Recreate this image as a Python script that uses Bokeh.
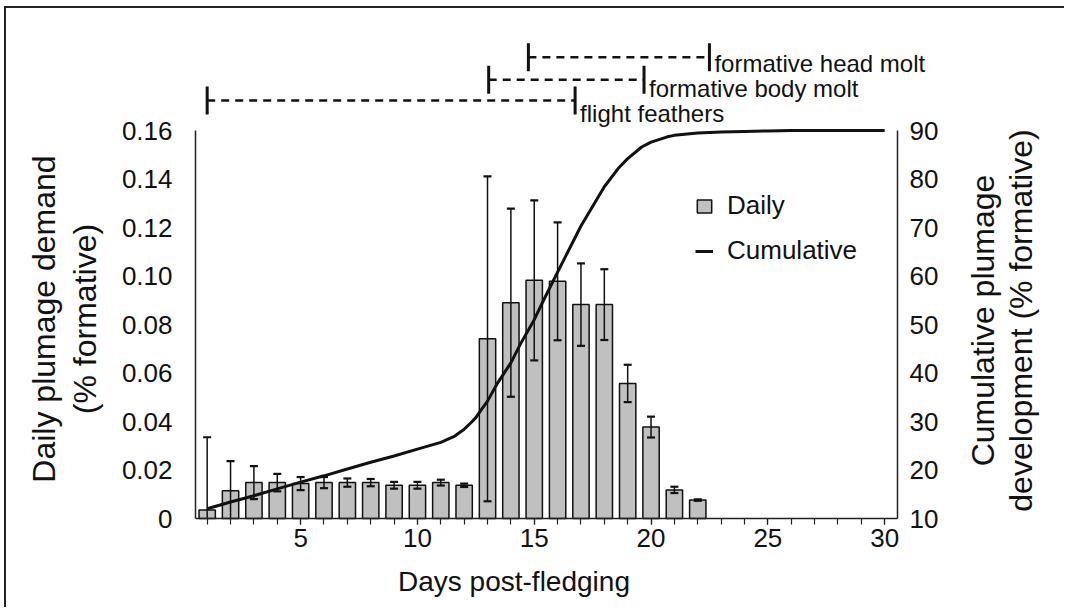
import math
from bokeh.plotting import figure
from bokeh.models import Range1d, LinearAxis, FixedTicker, ColumnDataSource, Legend, LegendItem
from bokeh.core.properties import value
from bokeh.embed import file_html
from bokeh.resources import INLINE

# ---------------- data ----------------
days = list(range(1, 23))
daily = [0.0035, 0.0114, 0.0148, 0.0148, 0.0144, 0.0148, 0.0148, 0.0148, 0.0137, 0.0137, 0.0148,
         0.0137, 0.0741, 0.0890, 0.0982, 0.0978, 0.0882, 0.0882, 0.0557, 0.0377, 0.0118, 0.0076]
daily_err = [0.0300, 0.0123, 0.0068, 0.0036, 0.0027, 0.0023, 0.0017, 0.0015, 0.0014, 0.0014, 0.0012,
             0.0007, 0.0670, 0.0388, 0.0330, 0.0243, 0.0170, 0.0146, 0.0077, 0.0043, 0.0013, 0.0003]

cum_days = [1, 2, 3, 4, 5, 6, 7, 8, 9, 10, 11, 11.6, 12, 12.3, 12.5, 12.7, 13, 13.4, 14, 14.4,
            15, 15.4, 16, 17, 18, 18.6, 19, 19.6, 20, 20.7, 21, 22, 23, 24, 25, 26, 27, 28, 29, 30]
cum_vals = [12.0, 13.4, 14.7, 16.1, 17.5, 18.8, 20.2, 21.6, 22.9, 24.3, 25.7, 27.0, 28.4, 29.8,
            30.8, 32.2, 34.2, 37.7, 42.1, 45.9, 51.0, 55.0, 60.8, 70.3, 78.4, 82.2, 84.2, 86.6,
            87.6, 88.7, 89.0, 89.5, 89.7, 89.8, 89.9, 90.0, 90.0, 90.0, 90.0, 90.0]

phase_names = ["flight feathers", "formative body molt", "formative head molt"]
phase_start = [1.0, 13.05, 14.75]
phase_end = [16.75, 19.7, 22.5]

left_ticks = [0, 0.02, 0.04, 0.06, 0.08, 0.10, 0.12, 0.14, 0.16]
left_tick_labels = ["0", "0.02", "0.04", "0.06", "0.08", "0.10", "0.12", "0.14", "0.16"]
right_ticks = [10, 20, 30, 40, 50, 60, 70, 80, 90]
x_major_ticks = [5, 10, 15, 20, 25, 30]
x_minor_ticks = list(range(1, 31))

x_title = "Days post-fledging"
left_title = "Daily plumage demand\n(% formative)"
right_title = "Cumulative plumage\ndevelopment (% formative)"

# ---------------- layout (page pixels) ----------------
FONT = "Liberation Sans"
INK = "#111111"
OX, OY = 6, 8                          # page offset of the canvas (margin + border)
CW, CH = 1066 - OX, 609 - OY
PAGE_ZERO, PAGE_TOP_TICK = 518, 130    # page y of 0 and of 0.16
FRAME_L, FRAME_R = 195, 897            # page x of the axes
X0, X1 = 0.5, 30.55
px_day = (FRAME_R - FRAME_L) / (X1 - X0)
scale = (PAGE_ZERO - PAGE_TOP_TICK) / 0.16


def x_of(page_x):
    return X0 + (page_x - FRAME_L) / px_day


def v_of(page_y):
    return (PAGE_ZERO - page_y) / scale


def v2_of(page_y):
    return 10 + (PAGE_ZERO - page_y) / scale * 500.0


p = figure(width=CW, height=CH, output_backend="svg", toolbar_location=None,
           x_range=Range1d(x_of(OX), x_of(1066)), y_range=Range1d(v_of(609), v_of(OY)),
           min_border=0, min_border_left=0, min_border_right=0,
           min_border_top=0, min_border_bottom=0)
p.extra_y_ranges = {"cum": Range1d(v2_of(609), v2_of(OY))}
p.styles = {"border-top": "2px solid #222", "border-left": "2px solid #222",
            "margin-top": "6px", "margin-left": "4px"}
p.outline_line_color = None
p.xgrid.visible = False
p.ygrid.visible = False

# ---------------- bars with error bars ----------------
src = ColumnDataSource(dict(day=days, v=daily,
                            lo=[max(v - e, 0.0) for v, e in zip(daily, daily_err)],
                            hi=[v + e for v, e in zip(daily, daily_err)]))
low_caps = ColumnDataSource(dict(day=[d for d, v, e in zip(days, daily, daily_err) if v - e > 0],
                                 lo=[v - e for v, e in zip(daily, daily_err) if v - e > 0]))
bars = p.vbar(x="day", top="v", bottom=0, width=0.7, source=src,
              fill_color="#c0c0c0", line_color=INK, line_width=1.5)
p.segment(x0="day", y0="lo", x1="day", y1="hi", source=src, line_color=INK, line_width=1.5)
p.scatter(x="day", y="hi", source=src, marker="dash", size=8, line_color=INK, line_width=2.2)
p.scatter(x="day", y="lo", source=low_caps, marker="dash", size=8, line_color=INK, line_width=2.2)

# ---------------- cumulative line ----------------
cum = p.line(cum_days, cum_vals, y_range_name="cum", line_color=INK, line_width=3)

# ---------------- phase ranges above the plot ----------------
row_page_y = [100, 79.3, 56.7]
text_dy = [13, 9, 6]
psrc = ColumnDataSource(dict(x0=phase_start, x1=phase_end, y=[v_of(r) for r in row_page_y],
                             name=phase_names, dy=text_dy))
p.segment(x0="x0", y0="y", x1="x1", y1="y", source=psrc, line_color=INK, line_width=2.5,
          line_dash="8 6")
p.scatter(x="x0", y="y", source=psrc, marker="dash", angle=math.pi / 2, size=28,
          line_color=INK, line_width=3)
p.scatter(x="x1", y="y", source=psrc, marker="dash", angle=math.pi / 2, size=28,
          line_color=INK, line_width=3)
p.text(x="x1", y="y", text="name", source=psrc, x_offset=5, y_offset="dy",
       text_font=value(FONT), text_font_size="24px", text_color=INK,
       text_baseline="alphabetic", text_align="left")

# ---------------- axes ----------------
xa = p.xaxis[0]
xa.fixed_location = 0
xa.bounds = (X0, X1)
xa.ticker = FixedTicker(ticks=x_major_ticks, minor_ticks=x_minor_ticks)
xa.major_tick_in = 0
xa.major_tick_out = 6
xa.minor_tick_in = 0
xa.minor_tick_out = 6
xa.major_label_standoff = 4

ya = p.yaxis[0]
ya.fixed_location = X0
ya.bounds = (0, 0.16)
ya.ticker = FixedTicker(ticks=left_ticks)
ya.major_label_overrides = {t: s for t, s in zip(left_ticks, left_tick_labels)}
ya.major_tick_in = 0
ya.major_tick_out = 0
ya.major_label_standoff = 23

ra = LinearAxis(y_range_name="cum", fixed_location=X1, bounds=(10, 90),
                ticker=FixedTicker(ticks=right_ticks))
ra.major_tick_in = 0
ra.major_tick_out = 0
ra.major_label_standoff = 12
p.add_layout(ra, "right")

for ax in (xa, ya, ra):
    ax.axis_line_color = "#222222"
    ax.axis_line_width = 1.5
    ax.major_tick_line_color = "#222222"
    ax.minor_tick_line_color = "#222222"
    ax.major_tick_line_width = 1.2
    ax.minor_tick_line_width = 1.2
    ax.major_label_text_font = FONT
    ax.major_label_text_font_size = "26px"
    ax.major_label_text_color = INK
for ax in (ya, ra):
    ax.minor_tick_line_color = None

# ---------------- axis titles ----------------
p.text(x=[x_of(513.5)], y=[v_of(581)], text=[x_title], text_font=value(FONT),
       text_font_size="28px", text_color=INK, text_align="center", text_baseline="middle")
p.text(x=[x_of(64)], y=[v_of(318.5)], text=[left_title], angle=math.pi / 2,
       text_font=value(FONT), text_font_size="32px", text_color=INK, text_align="center",
       text_baseline="middle", text_line_height=1.15)
p.text(x=[x_of(1001.5)], y=[v_of(320)], text=[right_title], angle=math.pi / 2,
       text_font=value(FONT), text_font_size="32px", text_color=INK, text_align="center",
       text_baseline="middle", text_line_height=1.05)

# ---------------- legend ----------------
legend = Legend(items=[LegendItem(label="Daily", renderers=[bars]),
                       LegendItem(label="Cumulative", renderers=[cum])],
                location=(695 - OX, 609 - 266), orientation="vertical",
                label_text_font=FONT, label_text_font_size="26px", label_text_color=INK,
                glyph_width=18, glyph_height=16, label_height=30, spacing=14,
                label_standoff=14, padding=0, margin=0,
                border_line_color=None, background_fill_alpha=0)
p.add_layout(legend, "center")

open("out.html", "w").write(file_html(p, INLINE))
